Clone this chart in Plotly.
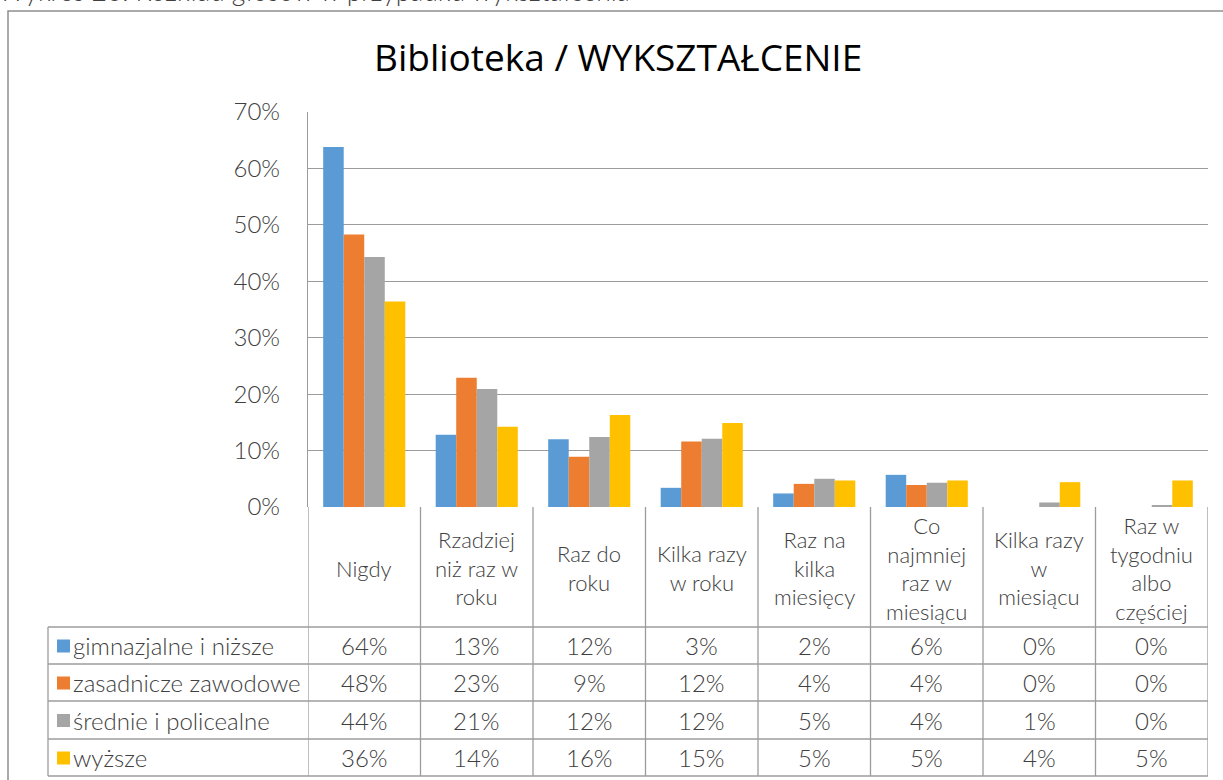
import plotly.graph_objects as go

W, H = 1223, 780

categories = ["Nigdy", "Rzadziej niż raz w roku", "Raz do roku", "Kilka razy w roku",
              "Raz na kilka miesięcy", "Co najmniej raz w miesiącu",
              "Kilka razy w miesiącu", "Raz w tygodniu albo częściej"]
header_labels = ["Nigdy", "Rzadziej<br>niż raz w<br>roku", "Raz do<br>roku", "Kilka razy<br>w roku",
                 "Raz na<br>kilka<br>miesięcy", "Co<br>najmniej<br>raz w<br>miesiącu",
                 "Kilka razy<br>w<br>miesiącu", "Raz w<br>tygodniu<br>albo<br>częściej"]

series_names = ["gimnazjalne i niższe", "zasadnicze zawodowe", "średnie i policealne", "wyższe"]
gimnazjalne = [63.8, 12.8, 12.0, 3.4, 2.4, 5.7, 0.0, 0.0]
zasadnicze = [48.3, 22.9, 8.9, 11.6, 4.1, 3.9, 0.0, 0.0]
srednie = [44.3, 20.9, 12.4, 12.1, 5.0, 4.3, 0.8, 0.3]
wyzsze = [36.4, 14.2, 16.3, 14.9, 4.7, 4.7, 4.4, 4.7]
series_values = [gimnazjalne, zasadnicze, srednie, wyzsze]
colors = ["#5B9BD5", "#ED7D31", "#A5A5A5", "#FFC000"]

y_ticks = [0, 10, 20, 30, 40, 50, 60, 70]

title_text = "Biblioteka / WYKSZTAŁCENIE"
caption_text = "Wykres 26. Rozkład głosów w przypadku wykształcenia"

TXT = "#404040"
GRID = "#9c9c9c"
FONT = "Lato"


def xp(px):
    return px / W


def yp(py):
    return 1 - py / H


fig = go.Figure()
for name, vals, col in zip(series_names, series_values, colors):
    fig.add_trace(go.Bar(x=categories, y=vals, name=name, marker=dict(color=col, line=dict(width=0))))

plot_l, plot_r, plot_t, plot_b = 308, 1208, 112, 507
row_edges = [627, 664, 701, 739, 776]
legend_l = 48

shapes = []
annotations = []

# outer chart border
shapes.append(dict(type="rect", xref="paper", yref="paper", x0=xp(8), x1=xp(1240), y0=yp(800), y1=yp(11),
                   line=dict(color="#8f8f8f", width=1.5), fillcolor="rgba(0,0,0,0)", layer="below"))

# table vertical lines at category boundaries
n = len(categories)
for i in range(n + 1):
    shapes.append(dict(type="line", xref="x", yref="paper", x0=i - 0.5, x1=i - 0.5,
                       y0=yp(plot_b), y1=yp(row_edges[-1]), line=dict(color=GRID, width=1.3)))
# legend column left border
shapes.append(dict(type="line", xref="paper", yref="paper", x0=xp(legend_l), x1=xp(legend_l),
                   y0=yp(row_edges[0]), y1=yp(row_edges[-1]), line=dict(color=GRID, width=1.3)))
# horizontal lines
for ry in row_edges:
    shapes.append(dict(type="line", xref="paper", yref="paper", x0=xp(legend_l), x1=xp(plot_r),
                       y0=yp(ry), y1=yp(ry), line=dict(color=GRID, width=1.3)))

hfont = dict(family=FONT, size=22, color=TXT, weight=300)
tfont = dict(family=FONT, size=24, color=TXT, weight=300)

# header labels
for cat, lab in zip(categories, header_labels):
    annotations.append(dict(xref="x", yref="paper", x=cat, y=yp((plot_b + row_edges[0]) / 2 + 1),
                            text=lab, showarrow=False, font=hfont, xanchor="center", yanchor="middle"))

# table rows
for r, (name, vals, col) in enumerate(zip(series_names, series_values, colors)):
    yc = (row_edges[r] + row_edges[r + 1]) / 2
    shapes.append(dict(type="rect", xref="paper", yref="paper", x0=xp(57), x1=xp(70),
                       y0=yp(yc + 7), y1=yp(yc - 6), fillcolor=col, line=dict(width=0)))
    annotations.append(dict(xref="paper", yref="paper", x=xp(71), y=yp(yc), text=name, showarrow=False,
                            font=tfont, xanchor="left", yanchor="middle"))
    for cat, v in zip(categories, vals):
        annotations.append(dict(xref="x", yref="paper", x=cat, y=yp(yc), text=f"{round(v):d}%",
                                showarrow=False, font=tfont, xanchor="center", yanchor="middle"))

# title
annotations.append(dict(xref="paper", yref="paper", x=xp(618), y=yp(57), text=title_text, showarrow=False,
                        font=dict(family="Open Sans", size=37, color="#000000"),
                        xanchor="center", yanchor="middle"))
# cut-off caption at the very top (only its lower part is visible, as in the reference)
annotations.append(dict(xref="paper", yref="paper", x=xp(-4), y=yp(9), text=caption_text, showarrow=False,
                        font=dict(family=FONT, size=26.5, color=TXT, weight=300),
                        xanchor="left", yanchor="bottom"))

fig.update_layout(
    width=W, height=H,
    margin=dict(l=0, r=0, t=0, b=0, autoexpand=False),
    paper_bgcolor="white", plot_bgcolor="white",
    barmode="group", bargap=0.27, bargroupgap=0,
    showlegend=False,
    shapes=shapes, annotations=annotations,
    xaxis=dict(domain=[xp(plot_l), xp(plot_r)], type="category", range=[-0.5, n - 0.5],
               showticklabels=False, showgrid=False, zeroline=False, showline=False, ticks="",
               automargin=False),
    yaxis=dict(domain=[yp(plot_b), yp(plot_t)], range=[0, 70], tickvals=y_ticks,
               ticktext=[f"{t}%" for t in y_ticks], showgrid=True, gridcolor=GRID, gridwidth=1.3,
               zeroline=False, showline=True, linecolor=GRID, linewidth=1.3, ticks="",
               ticklabelstandoff=22, automargin=False,
               tickfont=dict(family=FONT, size=24, color=TXT, weight=300)),
)

fig.write_html("out.html", config={"displayModeBar": False},
               post_script="document.body.style.margin='0';document.body.style.overflow='hidden';")
